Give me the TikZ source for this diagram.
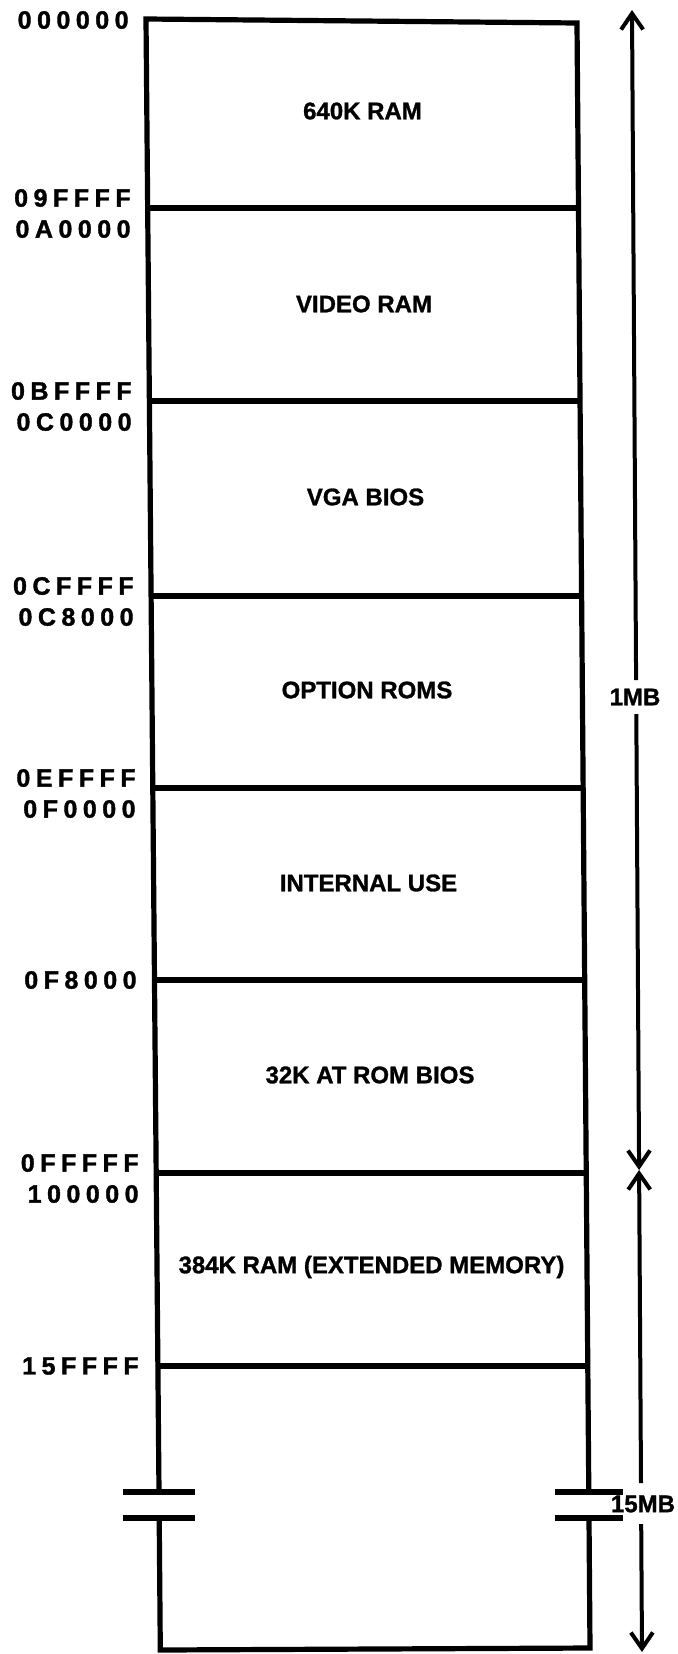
\documentclass[tikz,border=0pt]{standalone}
\usepackage{fontspec}
\setmainfont{Liberation Sans}[BoldFeatures={FakeBold=1.2}]
\newfontfamily\addrfont{Liberation Sans}[LetterSpace=22,BoldFeatures={FakeBold=1.5}]
\usetikzlibrary{arrows.meta}
\tikzset{
  frame/.style={line width=2.6pt, line join=miter},
  brk/.style={line width=2.6pt},
  dim/.style={line width=2pt},
  tipend/.style={-{Straight Barb[length=8pt,width=11pt]}},
  region/.style={font=\bfseries\fontsize{12}{14}\selectfont, inner sep=0pt},
  addr/.style={font=\addrfont\bfseries\fontsize{12.5}{14}\selectfont, inner sep=0pt, anchor=east},
  size/.style={font=\bfseries\fontsize{12}{14}\selectfont, inner sep=0pt}
}
\begin{document}
\begin{tikzpicture}[x=0.5pt,y=-0.5pt]
\useasboundingbox (0,0) rectangle (678,1654);
% frame corners and row ends
\coordinate (TL) at (146,19);
\coordinate (TR) at (577,23);
\coordinate (LB1) at (159,1492);
\coordinate (RB1) at (588.8,1492);
\coordinate (LB2) at (159.2,1518);
\coordinate (RB2) at (589,1518);
\coordinate (BL) at (160.3,1650);
\coordinate (BR) at (590,1648);
\foreach \n/\y in {1/208,2/401,3/596,4/788,5/980,6/1173,7/1366}{
  \coordinate (L\n) at ({146+0.0088*(\y-20)},\y);
  \coordinate (R\n) at ({577+0.008*(\y-20)},\y);
}
% outline
\draw[frame] (LB1) -- (TL) -- (TR) -- (RB1);
\draw[frame] (LB2) -- (BL) -- (BR) -- (RB2);
% break marks
\draw[brk] ([xshift=-18]LB1) -- ([xshift=18]LB1);
\draw[brk] ([xshift=-18]LB2) -- ([xshift=18]LB2);
\draw[brk] ([xshift=-17]RB1) -- ([xshift=17]RB1);
\draw[brk] ([xshift=-17]RB2) -- ([xshift=17]RB2);
% row lines
\foreach \n in {1,...,7}{ \draw[frame] (L\n) -- (R\n); }
% region labels
\node[region] (r1) at (362.5,111) {640K RAM};
\node[region] (r2) at (364,304) {VIDEO RAM};
\node[region] (r3) at (365.5,497) {VGA BIOS};
\node[region] (r4) at (367,690) {OPTION ROMS};
\node[region] (r5) at (368.5,883) {INTERNAL USE};
\node[region] (r6) at (370,1075) {32K AT ROM BIOS};
\node[region] (r7) at (371.5,1267) {384K RAM (EXTENDED MEMORY)};
% addresses
\node[addr] (a0) at (129,20) {000000};
\node[addr] (a1) at (131,198) {09FFFF};
\node[addr] (a2) at (131,229) {0A0000};
\node[addr] (a3) at (132,391) {0BFFFF};
\node[addr] (a4) at (132,422) {0C0000};
\node[addr] (a5) at (134,586) {0CFFFF};
\node[addr] (a6) at (134,617) {0C8000};
\node[addr] (a7) at (136,778) {0EFFFF};
\node[addr] (a8) at (136,809) {0F0000};
\node[addr] (a9) at (137,980) {0F8000};
\node[addr] (a10) at (139,1163) {0FFFFF};
\node[addr] (a11) at (139,1194) {100000};
\node[addr] (a12) at (139,1366) {15FFFF};
% dimension arrows
\node[size] (mb1) at (635,697) {1MB};
\node[size] (mb15) at (643,1504) {15MB};
\coordinate (Atop) at (632,10);
\coordinate (A1a) at (636.1,680);
\coordinate (A1b) at (636.3,714);
\coordinate (Amid) at (639.1,1170);
\coordinate (A2a) at (641,1483);
\coordinate (A2b) at (641.2,1524);
\coordinate (Abot) at (642,1652);
\draw[dim,tipend] (A1a) -- (Atop);
\draw[dim,tipend] (A1b) -- (Amid);
\draw[dim,tipend] (A2a) -- (Amid);
\draw[dim,tipend] (A2b) -- (Abot);
\end{tikzpicture}
\end{document}
